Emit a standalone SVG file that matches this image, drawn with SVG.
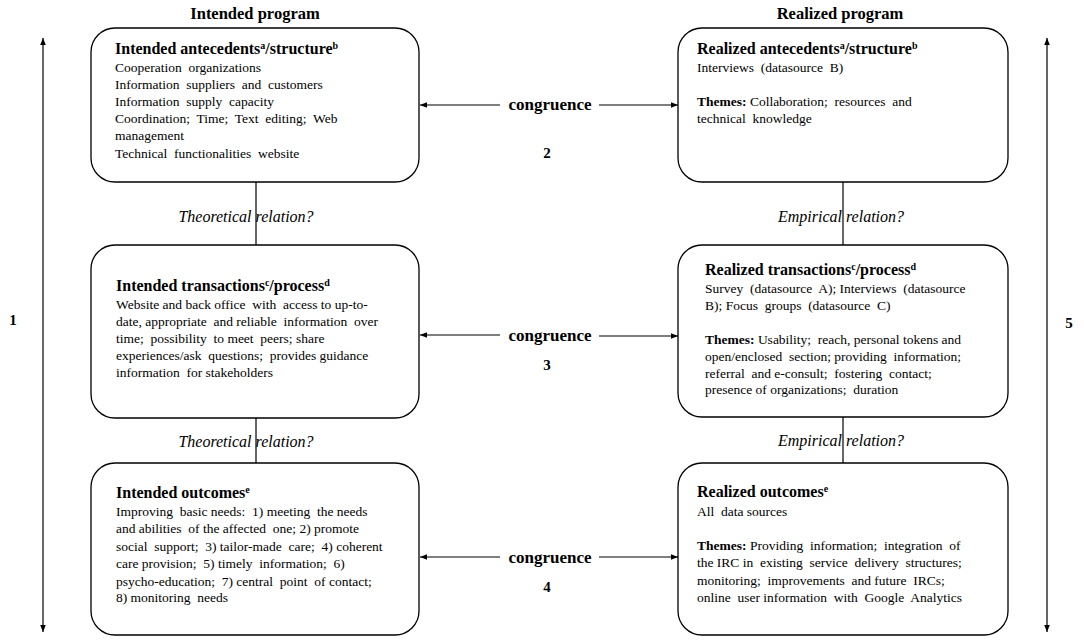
<svg xmlns="http://www.w3.org/2000/svg" width="1084" height="644" viewBox="0 0 1084 644">
<defs>
<marker id="ah" viewBox="0 0 10 10" refX="10" refY="5" markerWidth="7" markerHeight="7" orient="auto-start-reverse" markerUnits="userSpaceOnUse">
<path d="M0,1 L10,5 L0,9 Z" fill="#000"/>
</marker>
</defs>
<style>
text{font-family:"Liberation Serif","Times New Roman",serif;fill:#000;white-space:pre}
.h{font-size:16.5px;font-weight:bold}
.t{font-size:16px;font-weight:bold}
.b{font-size:13.5px}
.i{font-size:16px;font-style:italic}
.c{font-size:17px;font-weight:bold}
.n{font-size:15px;font-weight:bold}
.sup{font-size:10px;baseline-shift:super}
.box{fill:#fff;stroke:#000;stroke-width:1.3}
.ln{stroke:#000;stroke-width:1.2;fill:none}
</style>
<rect width="1084" height="644" fill="#fff"/>

<text class="h" x="255" y="19" text-anchor="middle">Intended program</text>
<text class="h" x="840" y="19" text-anchor="middle">Realized program</text>

<g id="connectors">
<line class="ln" x1="43" y1="38" x2="43" y2="632" marker-start="url(#ah)" marker-end="url(#ah)"/>
<line class="ln" x1="1047" y1="38" x2="1047" y2="632" marker-start="url(#ah)" marker-end="url(#ah)"/>
<line class="ln" x1="256" y1="182" x2="256" y2="245"/>
<line class="ln" x1="256" y1="418" x2="256" y2="463"/>
<line class="ln" x1="843" y1="182" x2="843" y2="245"/>
<line class="ln" x1="843" y1="417" x2="843" y2="463"/>
<line class="ln" x1="500" y1="105" x2="420" y2="105" marker-end="url(#ah)"/>
<line class="ln" x1="599" y1="105" x2="678" y2="105" marker-end="url(#ah)"/>
<line class="ln" x1="500" y1="335" x2="420" y2="335" marker-end="url(#ah)"/>
<line class="ln" x1="599" y1="336" x2="678" y2="336" marker-end="url(#ah)"/>
<line class="ln" x1="500" y1="557" x2="420" y2="557" marker-end="url(#ah)"/>
<line class="ln" x1="599" y1="557" x2="678" y2="557" marker-end="url(#ah)"/>
<text class="c" x="550" y="110" text-anchor="middle">congruence</text>
<text class="n" x="547" y="158" text-anchor="middle">2</text>
<text class="c" x="550" y="341" text-anchor="middle">congruence</text>
<text class="n" x="547" y="370" text-anchor="middle">3</text>
<text class="c" x="550" y="563" text-anchor="middle">congruence</text>
<text class="n" x="547" y="592" text-anchor="middle">4</text>
<text class="n" x="13" y="325" text-anchor="middle">1</text>
<text class="n" x="1069" y="328" text-anchor="middle">5</text>
<text class="i" x="246" y="222" text-anchor="middle">Theoretical relation?</text>
<text class="i" x="246" y="447" text-anchor="middle">Theoretical relation?</text>
<text class="i" x="841" y="222" text-anchor="middle">Empirical relation?</text>
<text class="i" x="841" y="446" text-anchor="middle">Empirical relation?</text>
</g>

<g id="intended-antecedents">
<rect class="box" x="91" y="28" width="328" height="154" rx="24"/>
<text class="t" x="115" y="54">Intended antecedents<tspan class="sup">a</tspan>/structure<tspan class="sup">b</tspan></text>
<text class="b" x="115" y="72">Cooperation  organizations</text>
<text class="b" x="115" y="89">Information  suppliers  and  customers</text>
<text class="b" x="115" y="106">Information  supply  capacity</text>
<text class="b" x="115" y="123">Coordination;  Time;  Text  editing;  Web</text>
<text class="b" x="115" y="140">management</text>
<text class="b" x="115" y="158">Technical  functionalities  website</text>
</g>

<g id="realized-antecedents">
<rect class="box" x="678" y="28" width="330" height="154" rx="24"/>
<text class="t" x="697" y="54">Realized antecedents<tspan class="sup">a</tspan>/structure<tspan class="sup">b</tspan></text>
<text class="b" x="697" y="72">Interviews  (datasource  B)</text>
<text class="b" x="697" y="106"><tspan font-weight="bold">Themes:</tspan> Collaboration;  resources  and</text>
<text class="b" x="697" y="123">technical  knowledge</text>
</g>

<g id="intended-transactions">
<rect class="box" x="91" y="245" width="328" height="173" rx="24"/>
<text class="t" x="116" y="291">Intended transactions<tspan class="sup">c</tspan>/process<tspan class="sup">d</tspan></text>
<text class="b" x="116" y="309">Website and back office  with  access to up-to-</text>
<text class="b" x="116" y="326">date, appropriate  and reliable  information  over</text>
<text class="b" x="116" y="343">time;  possibility  to meet  peers; share</text>
<text class="b" x="116" y="360">experiences/ask  questions;  provides guidance</text>
<text class="b" x="116" y="377">information  for stakeholders</text>
</g>

<g id="realized-transactions">
<rect class="box" x="678" y="245" width="330" height="172" rx="24"/>
<text class="t" x="705" y="275">Realized transactions<tspan class="sup">c</tspan>/process<tspan class="sup">d</tspan></text>
<text class="b" x="705" y="293">Survey  (datasource  A); Interviews  (datasource</text>
<text class="b" x="705" y="310">B); Focus  groups  (datasource  C)</text>
<text class="b" x="705" y="344"><tspan font-weight="bold">Themes:</tspan> Usability;  reach, personal tokens and</text>
<text class="b" x="705" y="361">open/enclosed  section; providing  information;</text>
<text class="b" x="705" y="378">referral  and e-consult;  fostering  contact;</text>
<text class="b" x="705" y="394">presence of organizations;  duration</text>
</g>

<g id="intended-outcomes">
<rect class="box" x="91" y="463" width="328" height="172" rx="24"/>
<text class="t" x="116" y="498">Intended outcomes<tspan class="sup">e</tspan></text>
<text class="b" x="116" y="516">Improving  basic needs:  1) meeting  the needs</text>
<text class="b" x="116" y="533">and abilities  of the affected  one; 2) promote</text>
<text class="b" x="116" y="551">social  support;  3) tailor-made  care;  4) coherent</text>
<text class="b" x="116" y="568">care provision;  5) timely  information;  6)</text>
<text class="b" x="116" y="586">psycho-education;  7) central  point  of contact;</text>
<text class="b" x="116" y="602">8) monitoring  needs</text>
</g>

<g id="realized-outcomes">
<rect class="box" x="678" y="463" width="330" height="172" rx="24"/>
<text class="t" x="697" y="497">Realized outcomes<tspan class="sup">e</tspan></text>
<text class="b" x="697" y="516">All  data sources</text>
<text class="b" x="697" y="550"><tspan font-weight="bold">Themes:</tspan> Providing  information;  integration  of</text>
<text class="b" x="697" y="567">the IRC in  existing  service  delivery  structures;</text>
<text class="b" x="697" y="585">monitoring;  improvements  and future  IRCs;</text>
<text class="b" x="697" y="602">online  user information  with  Google  Analytics</text>
</g>
</svg>
